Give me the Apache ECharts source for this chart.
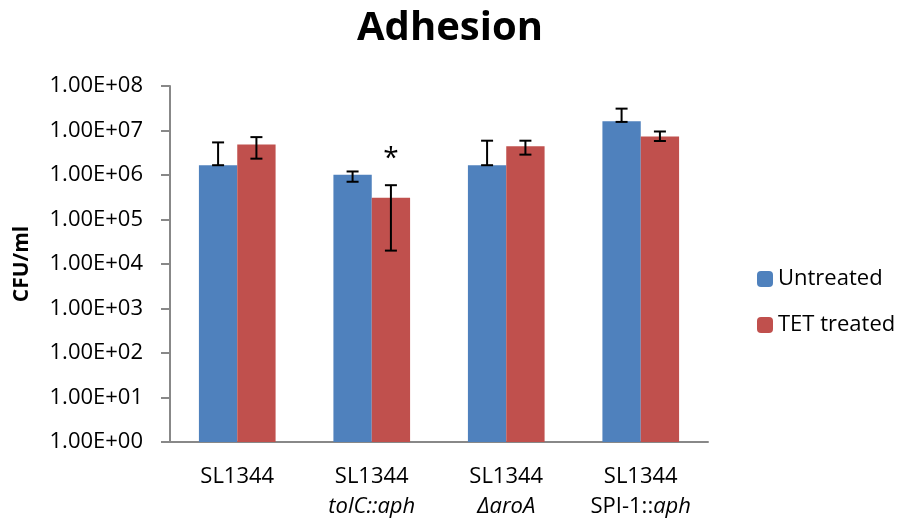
<!DOCTYPE html>
<html><head><meta charset="utf-8">
<script src="https://cdn.jsdelivr.net/npm/echarts@6/dist/echarts.min.js"></script>
<style>html,body{margin:0;padding:0;background:#fff}#c{width:900px;height:522px}</style>
</head><body><div id="c"></div>
<script>
var categories = ['SL1344', 'SL1344 tolC::aph', 'SL1344 ΔaroA', 'SL1344 SPI-1::aph'];
var seriesNames = ['Untreated', 'TET treated'];
var untreated = [1.66e6, 1.01e6, 1.66e6, 1.62e7];
var untreatedLow = [1.66e6, 7.05e5, 1.66e6, 1.56e7];
var untreatedHigh = [5.4e6, 1.2e6, 5.9e6, 3.1e7];
var tet = [4.87e6, 3.1e5, 4.4e6, 7.35e6];
var tetLow = [2.33e6, 2.0e4, 2.87e6, 5.8e6];
var tetHigh = [7.1e6, 5.9e5, 5.9e6, 9.5e6];
var tetStars = ['', '*', '', ''];
var yTickExponents = [0, 1, 2, 3, 4, 5, 6, 7, 8];

var FONT = '"Open Sans"';
var GAP = 0.43;

function errSeries(low, high, sIdx, stars) {
  var data = low.map(function (l, i) { return [i, l, high[i], stars ? stars[i] : '']; });
  return {
    type: 'custom', z: 10,
    data: data,
    renderItem: function (params, api) {
      var i = api.value(0);
      var band = api.size([1, 0])[0];
      var bw = band * (1 - GAP) / 2;
      var off = (sIdx === 0 ? -1 : 1) * bw / 2;
      var pLo = api.coord([i, api.value(1)]);
      var pHi = api.coord([i, api.value(2)]);
      var x = pLo[0] + off;
      var cw = 6;
      var st = { stroke: '#000', lineWidth: 2 };
      var children = [
        { type: 'line', shape: { x1: x, y1: pLo[1], x2: x, y2: pHi[1] }, style: st },
        { type: 'line', shape: { x1: x - cw, y1: pLo[1], x2: x + cw, y2: pLo[1] }, style: st },
        { type: 'line', shape: { x1: x - cw, y1: pHi[1], x2: x + cw, y2: pHi[1] }, style: st }
      ];
      var s = data[params.dataIndex][3];
      if (s) {
        children.push({ type: 'text', style: { text: s, x: x, y: pHi[1] - 26, align: 'center', verticalAlign: 'middle', font: '28px ' + FONT, fill: '#000' } });
      }
      return { type: 'group', children: children };
    }
  };
}

var chart = echarts.init(document.getElementById('c'), null, { renderer: 'canvas' });
chart.setOption({
  animation: false,
  title: { text: 'Adhesion', left: 'center', top: 4, textStyle: { fontFamily: FONT, fontWeight: 'bold', fontSize: 40, color: '#000' } },
  legend: {
    orient: 'vertical', left: 752, top: 263, itemGap: 24, itemWidth: 16, itemHeight: 16,
    textStyle: { fontFamily: FONT, fontSize: 22, color: '#000', padding: [0, 0, 14, 0] },
    data: seriesNames
  },
  grid: { left: 170, right: 192, top: 86, bottom: 78 },
  xAxis: {
    type: 'category', data: categories,
    axisLine: { lineStyle: { color: '#888', width: 2 } },
    axisTick: { length: 6, lineStyle: { color: '#888', width: 2 } },
    axisLabel: {
      interval: 0, margin: 20, lineHeight: 30, color: '#000', fontFamily: FONT, fontSize: 22,
      formatter: function (v, i) {
        if (i === 0) return '{n|SL1344}';
        if (i === 1) return '{n|SL1344}\n{i|tolC::aph}';
        if (i === 2) return '{n|SL1344}\n{i|ΔaroA}';
        return '{n|SL1344}\n{n|SPI-1::}{i|aph}';
      },
      rich: {
        n: { fontFamily: FONT, fontSize: 22, color: '#000', lineHeight: 30 },
        i: { fontFamily: FONT, fontSize: 22, fontStyle: 'italic', color: '#000', lineHeight: 30 }
      }
    }
  },
  yAxis: {
    type: 'log', logBase: 10, min: 1, max: 1e8, interval: 1,
    name: 'CFU/ml', nameLocation: 'middle', nameGap: 137, nameRotate: 90,
    nameTextStyle: { fontFamily: FONT, fontWeight: 'bold', fontSize: 21, color: '#000' },
    axisLine: { show: true, lineStyle: { color: '#888', width: 2 } },
    axisTick: { show: true, length: 9, lineStyle: { color: '#888', width: 2 } },
    splitLine: { show: false },
    axisLabel: {
      margin: 27, color: '#000', fontFamily: FONT, fontSize: 22,
      formatter: function (v) {
        var e = Math.round(Math.log10(v));
        if (yTickExponents.indexOf(e) < 0) return '';
        return '1.00E+' + (e < 10 ? '0' : '') + e;
      }
    }
  },
  series: [
    { name: seriesNames[0], type: 'bar', data: untreated, barGap: '0%', barCategoryGap: (GAP * 100) + '%', itemStyle: { color: '#4F81BD' } },
    { name: seriesNames[1], type: 'bar', data: tet, barGap: '0%', barCategoryGap: (GAP * 100) + '%', itemStyle: { color: '#C0504D' } },
    errSeries(untreatedLow, untreatedHigh, 0, null),
    errSeries(tetLow, tetHigh, 1, tetStars)
  ]
});
</script></body></html>
